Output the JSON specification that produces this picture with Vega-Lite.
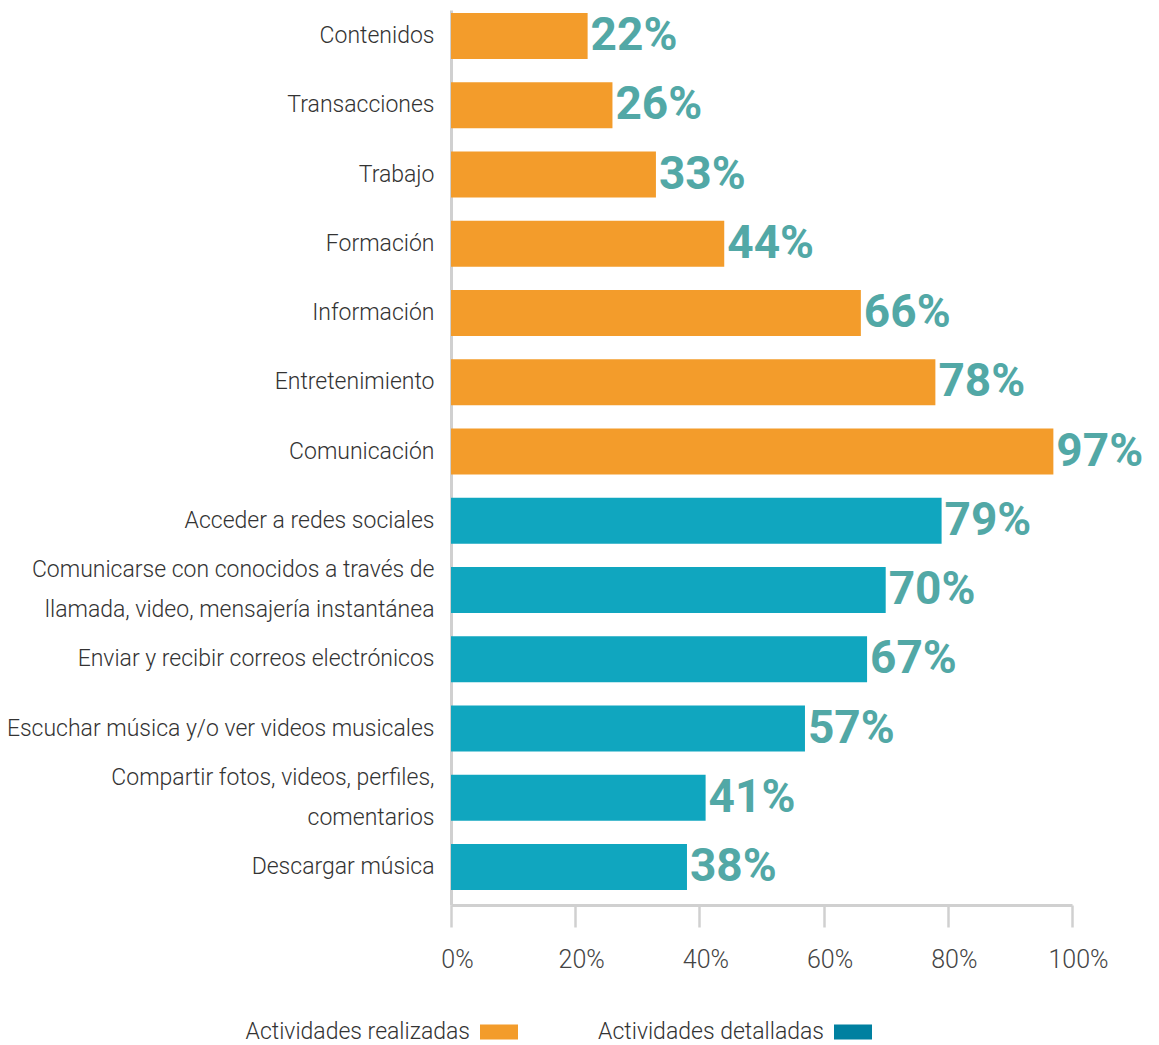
{
  "$schema": "https://vega.github.io/schema/vega-lite/v6.json",
  "width": 621,
  "height": 895,
  "autosize": "none",
  "padding": {"left": 451, "top": 10, "right": 87, "bottom": 140},
  "background": "white",
  "config": {
    "view": {"stroke": null},
    "font": "Roboto"
  },
  "data": {
    "values": [
      {"label": "Contenidos", "grupo": "Actividades realizadas", "valor": 0.22},
      {"label": "Transacciones", "grupo": "Actividades realizadas", "valor": 0.26},
      {"label": "Trabajo", "grupo": "Actividades realizadas", "valor": 0.33},
      {"label": "Formación", "grupo": "Actividades realizadas", "valor": 0.44},
      {"label": "Información", "grupo": "Actividades realizadas", "valor": 0.66},
      {"label": "Entretenimiento", "grupo": "Actividades realizadas", "valor": 0.78},
      {"label": "Comunicación", "grupo": "Actividades realizadas", "valor": 0.97},
      {"label": "Acceder a redes sociales", "grupo": "Actividades detalladas", "valor": 0.79},
      {"label": "Comunicarse con conocidos a través de\nllamada, video, mensajería instantánea", "grupo": "Actividades detalladas", "valor": 0.70},
      {"label": "Enviar y recibir correos electrónicos", "grupo": "Actividades detalladas", "valor": 0.67},
      {"label": "Escuchar música y/o ver videos musicales", "grupo": "Actividades detalladas", "valor": 0.57},
      {"label": "Compartir fotos, videos, perfiles,\ncomentarios", "grupo": "Actividades detalladas", "valor": 0.41},
      {"label": "Descargar música", "grupo": "Actividades detalladas", "valor": 0.38}
    ]
  },
  "encoding": {
    "y": {
      "field": "label",
      "type": "nominal",
      "sort": null,
      "scale": {"paddingInner": 0.336, "paddingOuter": 0.13, "align": 0.17},
      "axis": {
        "title": null,
        "ticks": false,
        "domainColor": "#d0d0d0",
        "domainWidth": 3,
        "labelPadding": 17,
        "labelFontSize": 23,
        "labelFontWeight": 300,
        "labelColor": "#333333",
        "labelLineHeight": 40,
        "labelLimit": 500,
        "labelExpr": "split(datum.label, '\\n')",
        "labelOffset": {"condition": {"test": "indexof(datum.value, '\\n') >= 0", "value": -20}, "value": 0}
      }
    },
    "x": {
      "field": "valor",
      "type": "quantitative",
      "scale": {"domain": [0, 1]},
      "axis": {
        "title": null,
        "values": [0, 0.2, 0.4, 0.6, 0.8, 1],
        "format": ".0%",
        "grid": false,
        "domainColor": "#d0d0d0",
        "domainWidth": 3,
        "tickColor": "#d0d0d0",
        "tickWidth": 2.5,
        "tickSize": 22,
        "labelPadding": 20,
        "labelFlush": false,
        "labelOffset": 6,
        "labelFontSize": 25,
        "labelFontWeight": 300,
        "labelColor": "#444444"
      }
    }
  },
  "layer": [
    {
      "mark": {"type": "square", "filled": true, "size": 100, "opacity": 1},
      "encoding": {
        "x": {"datum": 0.1, "type": "quantitative"},
        "color": {
          "field": "grupo",
          "type": "nominal",
          "scale": {"domain": ["Actividades realizadas", "Actividades detalladas"], "range": ["#F39C2B", "#0080A0"]},
          "legend": {
            "title": null,
            "orient": "none",
            "legendX": 29,
            "legendY": 1003,
            "direction": "horizontal",
            "padding": 0,
            "columnPadding": 80,
            "symbolType": "M -1 -0.4 H 1 V 0.4 H -1 Z",
            "symbolSize": 1444,
            "symbolStrokeWidth": 0,
            "symbolOpacity": 1,
            "labelFontSize": 23,
            "labelFontWeight": 300,
            "labelColor": "#333333",
            "labelAlign": "right",
            "labelOffset": -48,
            "labelLimit": 400
          }
        }
      }
    },
    {
      "mark": {"type": "bar"},
      "encoding": {
        "fill": {
          "field": "grupo",
          "type": "nominal",
          "scale": {"domain": ["Actividades realizadas", "Actividades detalladas"], "range": ["#F39C2B", "#10A6BF"]},
          "legend": null
        }
      }
    },
    {
      "mark": {
        "type": "text",
        "align": "left",
        "baseline": "middle",
        "dx": 3,
        "fontSize": 46,
        "fontWeight": "bold",
        "color": "#52A8A6"
      },
      "encoding": {
        "text": {"field": "valor", "type": "quantitative", "format": ".0%"}
      }
    }
  ]
}
